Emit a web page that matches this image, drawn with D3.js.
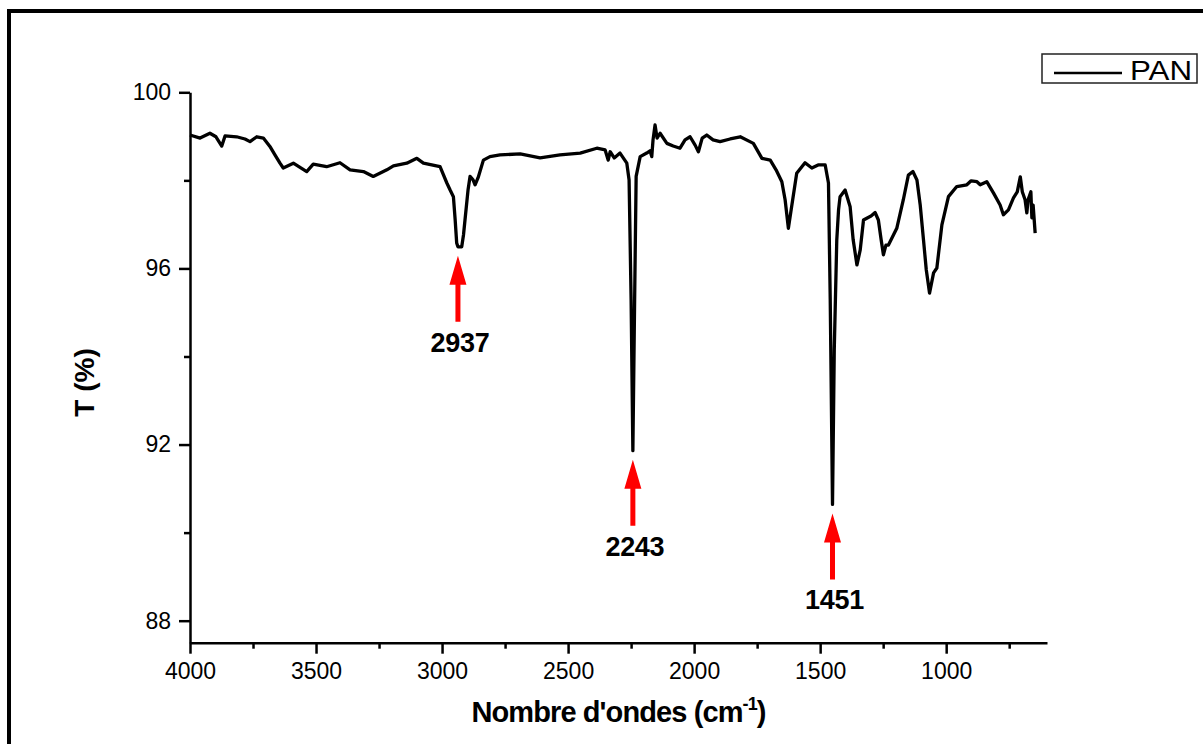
<!DOCTYPE html>
<html>
<head>
<meta charset="utf-8">
<script src="https://cdn.jsdelivr.net/npm/d3@7"></script>
<style>
  body { margin: 0; background: #fff; }
  svg { display: block; font-family: "Liberation Sans", Arial, sans-serif; }
</style>
</head>
<body>
<svg id="chart" width="1203" height="744"></svg>
<script>
// FTIR spectrum of PAN
const wavenumber = [4000, 3960, 3921, 3897, 3874, 3861, 3815, 3782, 3762, 3735, 3709, 3683, 3663, 3643, 3630,
  3590, 3537, 3511, 3458, 3405, 3365, 3312, 3273, 3219, 3193, 3140, 3100, 3074, 3008, 2981, 2968, 2955, 2948,
  2942, 2937, 2922, 2915, 2909, 2897, 2889, 2877, 2869, 2857, 2836, 2810, 2770, 2690, 2611, 2532, 2452, 2386,
  2353, 2341, 2333, 2317, 2294, 2267, 2258, 2250, 2243, 2236, 2230, 2214, 2188, 2175, 2168, 2163, 2155, 2147,
  2135, 2108, 2083, 2056, 2036, 2016, 1996, 1983, 1968, 1950, 1925, 1897, 1857, 1817, 1765, 1731, 1698, 1675,
  1652, 1639, 1626, 1615, 1593, 1560, 1533, 1508, 1480, 1467, 1460, 1451, 1444, 1434, 1427, 1421, 1401, 1381,
  1369, 1354, 1341, 1328, 1315, 1298, 1282, 1269, 1258, 1249, 1239, 1229, 1196, 1170, 1150, 1132, 1116, 1103,
  1090, 1079, 1066, 1050, 1037, 1017, 991, 958, 918, 901, 878, 865, 839, 812, 786, 773, 753, 733, 718, 706,
  698, 687, 680, 675, 664, 660, 655, 647];
const transmittance = [99.03, 98.96, 99.07, 98.99, 98.78, 99.01, 98.99, 98.94, 98.88, 98.99, 98.96, 98.77, 98.58, 98.39, 98.28,
  98.39, 98.20, 98.37, 98.31, 98.40, 98.24, 98.20, 98.09, 98.24, 98.33, 98.39, 98.50, 98.39, 98.31, 97.94, 97.78, 97.63, 97.10,
  96.58, 96.49, 96.49, 96.76, 97.10, 97.78, 98.09, 98.01, 97.90, 98.06, 98.46, 98.54, 98.58, 98.60, 98.51, 98.58, 98.62, 98.73,
  98.69, 98.46, 98.65, 98.51, 98.62, 98.39, 98.01, 95.29, 91.86, 95.29, 98.09, 98.54, 98.62, 98.67, 98.54, 98.92, 99.26, 98.96,
  99.07, 98.84, 98.78, 98.73, 98.92, 98.99, 98.80, 98.65, 98.96, 99.03, 98.92, 98.88, 98.94, 98.99, 98.84, 98.50, 98.46, 98.24,
  97.97, 97.56, 96.91, 97.33, 98.16, 98.40, 98.28, 98.35, 98.35, 97.94, 95.29, 90.64, 94.15, 96.65, 97.33, 97.63, 97.78, 97.40,
  96.65, 96.08, 96.42, 97.10, 97.14, 97.19, 97.27, 97.10, 96.65, 96.31, 96.53, 96.53, 96.91, 97.56, 98.12, 98.20, 98.01, 97.44,
  96.65, 95.97, 95.44, 95.90, 96.01, 96.99, 97.63, 97.86, 97.90, 97.99, 97.97, 97.90, 97.97, 97.71, 97.44, 97.22, 97.33, 97.60, 97.74, 98.08,
  97.74, 97.56, 97.26, 97.56, 97.74, 97.15, 97.44, 96.80];

const peakWn = [2937, 2243, 1451];
const peakT = [96.49, 91.86, 90.64];
const peakLabels = ["2937", "2243", "1451"];

const xMajor = [4000, 3500, 3000, 2500, 2000, 1500, 1000];
const xMinor = [3750, 3250, 2750, 2250, 1750, 1250, 750];
const yMajor = [88, 92, 96, 100];
const yMinor = [90, 94, 98];

const svg = d3.select("#chart");
const plotLeft = 190, plotRight = 1047, plotTop = 92.3, plotBottom = 642.7;

const x = d3.scaleLinear().domain([4000, 600]).range([plotLeft, plotRight]);
const y = d3.scaleLinear().domain([87.5, 100]).range([plotBottom, plotTop]);

// outer frame (only top and left edges are in the picture)
svg.append("path")
    .attr("d", "M9,744 V11 H1203")
    .attr("fill", "none")
    .attr("stroke", "#000")
    .attr("stroke-width", 4);

// minor ticks
svg.append("g")
    .attr("transform", `translate(0,${plotBottom})`)
    .call(d3.axisBottom(x).tickValues(xMinor).tickSize(6).tickFormat("").tickSizeOuter(0))
    .call(g => g.select(".domain").remove());
svg.append("g")
    .attr("transform", `translate(${plotLeft},0)`)
    .call(d3.axisLeft(y).tickValues(yMinor).tickSize(6).tickFormat("").tickSizeOuter(0))
    .call(g => g.select(".domain").remove());

// major axes
svg.append("g")
    .attr("transform", `translate(0,${plotBottom})`)
    .call(d3.axisBottom(x).tickValues(xMajor).tickFormat(d3.format("d"))
        .tickSize(11).tickPadding(9).tickSizeOuter(0));
svg.append("g")
    .attr("transform", `translate(${plotLeft},0)`)
    .call(d3.axisLeft(y).tickValues(yMajor).tickFormat(d3.format("d"))
        .tickSize(11).tickPadding(8).tickSizeOuter(0));

svg.selectAll(".tick line, .domain").attr("stroke", "#000").attr("stroke-width", 2.5);
svg.selectAll(".tick text")
    .attr("font-family", "'Liberation Sans', Arial, sans-serif")
    .attr("font-size", 23)
    .attr("fill", "#000");

// spectrum
const line = d3.line()
    .x((d, i) => x(wavenumber[i]))
    .y(d => y(d));

svg.append("path")
    .datum(transmittance)
    .attr("d", line)
    .attr("fill", "none")
    .attr("stroke", "#000")
    .attr("stroke-width", 3.3)
    .attr("stroke-linejoin", "round");

// peak arrows
peakWn.forEach((wn, i) => {
    const cx = x(wn);
    const tip = y(peakT[i]) + 9;
    const g = svg.append("g");
    g.append("path")
        .attr("d", `M${cx},${tip} L${cx + 8.5},${tip + 29} L${cx + 2.5},${tip + 29} L${cx + 2.5},${tip + 66}` +
                   ` L${cx - 2.5},${tip + 66} L${cx - 2.5},${tip + 29} L${cx - 8.5},${tip + 29} Z`)
        .attr("fill", "#ff0000");
    g.append("text")
        .attr("x", cx + 2)
        .attr("y", tip + 96)
        .attr("text-anchor", "middle")
        .attr("font-size", 27)
        .attr("font-weight", "bold")
        .attr("letter-spacing", -0.3)
        .text(peakLabels[i]);
});

// axis titles
const xt = svg.append("text")
    .attr("x", (plotLeft + plotRight) / 2)
    .attr("y", 722)
    .attr("text-anchor", "middle")
    .attr("font-size", 29)
    .attr("font-weight", "bold")
    .attr("letter-spacing", -0.9);
xt.append("tspan").text("Nombre d'ondes (cm");
xt.append("tspan").attr("font-size", 18).attr("dy", -12).text("-1");
xt.append("tspan").attr("dy", 12).text(")");

svg.append("text")
    .attr("transform", `translate(94,${(plotTop + plotBottom) / 2 + 15}) rotate(-90)`)
    .attr("text-anchor", "middle")
    .attr("font-size", 28)
    .attr("font-weight", "bold")
    .text("T (%)");

// legend
const lg = svg.append("g");
lg.append("rect")
    .attr("x", 1042).attr("y", 54).attr("width", 155).attr("height", 29)
    .attr("fill", "#fff").attr("stroke", "#222").attr("stroke-width", 1.5);
lg.append("line")
    .attr("x1", 1054).attr("x2", 1122).attr("y1", 73).attr("y2", 73)
    .attr("stroke", "#000").attr("stroke-width", 2.5);
lg.append("text")
    .attr("x", 1130).attr("y", 80)
    .attr("font-size", 28)
    .attr("textLength", 62)
    .attr("lengthAdjust", "spacingAndGlyphs")
    .text("PAN");
</script>
</body>
</html>
